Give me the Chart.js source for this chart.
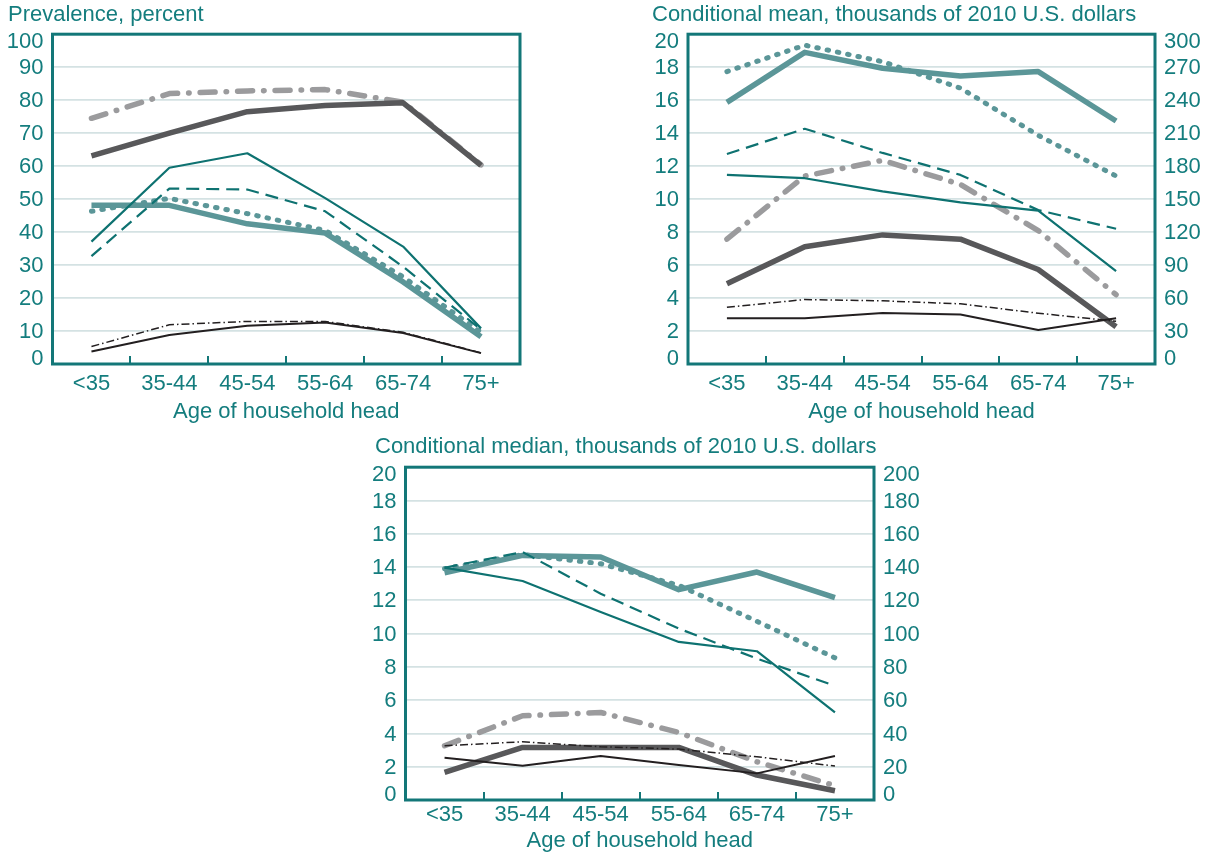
<!DOCTYPE html>
<html>
<head>
<meta charset="utf-8">
<script src="https://cdn.jsdelivr.net/npm/chart.js@4.4.1/dist/chart.umd.min.js"></script>
<style>
  html, body { margin: 0; padding: 0; background: #ffffff; }
  body { width: 1207px; height: 855px; position: relative; overflow: hidden; }
  .panel { position: absolute; }
  .panel canvas { display: block; }
</style>
</head>
<body>
<div class="panel" style="left:0px;top:0px;"><canvas id="prevalence" width="540" height="425"></canvas></div>
<div class="panel" style="left:650px;top:0px;"><canvas id="mean" width="557" height="425"></canvas></div>
<div class="panel" style="left:373px;top:430px;"><canvas id="median" width="560" height="425"></canvas></div>
<script>
// ---- categories and tick labels ----
const ageGroups = ['<35', '35-44', '45-54', '55-64', '65-74', '75+'];
const percentTicks = [0, 10, 20, 30, 40, 50, 60, 70, 80, 90, 100];
const thousandsTicks = [0, 2, 4, 6, 8, 10, 12, 14, 16, 18, 20];
const meanRightTicks = [0, 30, 60, 90, 120, 150, 180, 210, 240, 270, 300];
const medianRightTicks = [0, 20, 40, 60, 80, 100, 120, 140, 160, 180, 200];

// ---- prevalence, percent ----
const prevTealThick   = [48.1, 48.1, 42.5, 39.7, 24.9, 8.3];
const prevTealDotted  = [46.3, 50.2, 45.6, 40.5, 26.4, 9.6];
const prevTealThin    = [37.1, 59.5, 63.9, 50.3, 35.6, 10.8];
const prevTealDashed  = [32.7, 53.2, 52.9, 46.3, 29.5, 10.4];
const prevGreyThick   = [63.1, 70.0, 76.5, 78.4, 79.2, 60.2];
const prevGreyDashDot = [74.5, 82.0, 82.8, 83.2, 79.4, 60.4];
const prevBlack       = [3.8, 8.8, 11.6, 12.6, 9.4, 3.3];
const prevBlackDashDot= [5.3, 11.9, 12.9, 12.9, 9.6, 3.4];

// ---- conditional mean, thousands of 2010 dollars ----
// right-hand scale (0-300)
const meanTealThick   = [238, 283.5, 269, 262, 266, 221];
const meanTealDotted  = [266, 290, 275, 251, 208, 171];
const meanTealDashed  = [191, 214, 192, 172, 140, 123];
const meanTealThin    = [172, 169, 157, 147, 139.5, 84.5];
// left-hand scale (0-20)
const meanGreyThick   = [4.87, 7.11, 7.83, 7.57, 5.73, 2.26];
const meanGreyDashDot = [7.57, 11.4, 12.35, 10.89, 8.09, 4.2];
const meanBlack       = [2.77, 2.77, 3.1, 3.0, 2.06, 2.77];
const meanBlackDashDot= [3.44, 3.91, 3.83, 3.65, 3.08, 2.59];

// ---- conditional median, thousands of 2010 dollars ----
// right-hand scale (0-200)
const medTealThick    = [136.6, 147, 146, 126.4, 137, 121.6];
const medTealDotted   = [139, 147.5, 142, 129, 107.4, 85.4];
const medTealDashed   = [139.6, 149, 124, 103, 85, 68.6];
const medTealThin     = [139.6, 131.6, 113, 95, 89.4, 52.6];
// left-hand scale (0-20)
const medGreyThick    = [1.66, 3.16, 3.16, 3.16, 1.5, 0.56];
const medGreyDashDot  = [3.26, 5.06, 5.26, 4.06, 2.3, 0.86];
const medBlack        = [2.54, 2.06, 2.64, 2.1, 1.6, 2.64];
const medBlackDashDot = [3.26, 3.5, 3.2, 3.06, 2.6, 2.04];

// ---- styling ----
const TEXT = '#147d7e';
const FRAME = '#137778';
const GRID = '#d4e2e3';
const FONT = "'Liberation Sans', Arial, Helvetica, sans-serif";
const FONT_SIZE = 22;
const Y_LABEL_GAP = 9;

const STYLE = {
  tealThick:   { borderColor: '#5b9698', borderWidth: 5.5 },
  tealDotted:  { borderColor: '#5b9698', borderWidth: 5, borderDash: [1.5, 9], borderCapStyle: 'round' },
  tealThin:    { borderColor: '#0e7271', borderWidth: 2.2 },
  tealDashed:  { borderColor: '#0e7271', borderWidth: 2.2, borderDash: [13, 7] },
  greyThick:   { borderColor: '#58585a', borderWidth: 5.5 },
  greyDashDot: { borderColor: '#9b9b9d', borderWidth: 5.5, borderDash: [15, 11, 0.5, 11], borderCapStyle: 'round' },
  black:       { borderColor: '#231f20', borderWidth: 2 },
  blackDashDot:{ borderColor: '#231f20', borderWidth: 1.5, borderDash: [8, 3, 1.5, 3] }
};

function line(data, style, axis, order) {
  return Object.assign({
    data: data,
    yAxisID: axis,
    order: order,
    fill: false,
    tension: 0,
    pointRadius: 0,
    pointHoverRadius: 0,
    borderJoinStyle: 'round'
  }, STYLE[style]);
}

// box round the plot area, with short tick marks pointing inward at the bottom
const framePlugin = {
  id: 'frame',
  afterDatasetsDraw(chart) {
    const { ctx, chartArea: a, scales } = chart;
    const x = scales.x;
    ctx.save();
    ctx.strokeStyle = FRAME;
    ctx.lineWidth = 3;
    ctx.strokeRect(a.left, a.top, a.right - a.left, a.bottom - a.top);
    ctx.lineWidth = 2;
    for (let i = 0; i < ageGroups.length - 1; i++) {
      const px = Math.round(x.getPixelForValue(i + 0.5));
      ctx.beginPath();
      ctx.moveTo(px, a.bottom);
      ctx.lineTo(px, a.bottom - 8);
      ctx.stroke();
    }
    ctx.restore();
  }
};

// value labels on the vertical scales; the end labels sit just inside the box
const valueLabelPlugin = {
  id: 'valueLabels',
  afterDraw(chart) {
    const ctx = chart.ctx;
    ctx.save();
    ctx.fillStyle = TEXT;
    ctx.font = FONT_SIZE + 'px ' + FONT;
    ctx.textBaseline = 'middle';
    Object.values(chart.scales).forEach(scale => {
      if (scale.axis !== 'y') return;
      const last = scale.ticks.length - 1;
      const onLeft = scale.position === 'left';
      ctx.textAlign = onLeft ? 'right' : 'left';
      const x = onLeft ? scale.right - Y_LABEL_GAP : scale.left + Y_LABEL_GAP;
      scale.ticks.forEach((t, i) => {
        let y = scale.getPixelForValue(t.value);
        if (i === 0) y -= 5;
        else if (i === last) y += 8;
        else y += 1;
        ctx.fillText(String(t.value), x, y);
      });
    });
    ctx.restore();
  }
};

function valueAxis(ticks, position, width, showGrid) {
  return {
    type: 'linear',
    position: position,
    min: ticks[0],
    max: ticks[ticks.length - 1],
    afterBuildTicks: s => { s.ticks = ticks.map(v => ({ value: v })); },
    afterFit: s => { s.width = width; },
    grid: { display: showGrid, color: GRID, lineWidth: 1.8, drawTicks: false },
    border: { display: false },
    ticks: { display: false }
  };
}

function makePanel(id, opts) {
  const scales = {
    x: {
      type: 'category',
      offset: true,
      afterFit: s => { s.height = opts.xHeight; },
      grid: { display: false, drawTicks: false },
      border: { display: false },
      ticks: {
        color: TEXT,
        padding: opts.xTickPadding,
        autoSkip: false,
        maxRotation: 0,
        font: { family: FONT, size: FONT_SIZE }
      },
      title: {
        display: true,
        text: 'Age of household head',
        color: TEXT,
        padding: { top: 0, bottom: opts.xTitlePadding },
        font: { family: FONT, size: FONT_SIZE }
      }
    },
    y: valueAxis(opts.leftTicks, 'left', opts.leftWidth, true)
  };
  if (opts.rightTicks) {
    scales.y1 = valueAxis(opts.rightTicks, 'right', opts.rightWidth, false);
  }
  return new Chart(document.getElementById(id), {
    type: 'line',
    data: { labels: ageGroups, datasets: opts.datasets },
    options: {
      responsive: false,
      animation: false,
      devicePixelRatio: 1,
      layout: { padding: opts.padding },
      scales: scales,
      plugins: {
        legend: { display: false },
        tooltip: { enabled: false },
        title: {
          display: true,
          text: opts.title,
          align: 'start',
          color: TEXT,
          padding: opts.titlePadding,
          font: { family: FONT, size: FONT_SIZE, weight: 'normal' }
        }
      }
    },
    plugins: [framePlugin, valueLabelPlugin]
  });
}

makePanel('prevalence', {
  title: 'Prevalence, percent',
  padding: { left: 8, right: 20, top: 0, bottom: 0 },
  titlePadding: { top: 1.8, bottom: 6 },
  leftTicks: percentTicks,
  leftWidth: 44.5,
  xHeight: 61,
  xTickPadding: 6.3,
  xTitlePadding: 0,
  datasets: [
    line(prevBlackDashDot, 'blackDashDot', 'y', 1),
    line(prevBlack, 'black', 'y', 2),
    line(prevTealDashed, 'tealDashed', 'y', 3),
    line(prevTealThin, 'tealThin', 'y', 4),
    line(prevTealDotted, 'tealDotted', 'y', 5),
    line(prevTealThick, 'tealThick', 'y', 6),
    line(prevGreyThick, 'greyThick', 'y', 7),
    line(prevGreyDashDot, 'greyDashDot', 'y', 8)
  ]
});

makePanel('mean', {
  title: 'Conditional mean, thousands of 2010 U.S. dollars',
  padding: { left: 2, right: 0, top: 0, bottom: 0 },
  titlePadding: { top: 1.8, bottom: 6 },
  leftTicks: thousandsTicks,
  leftWidth: 36,
  rightTicks: meanRightTicks,
  rightWidth: 52,
  xHeight: 61,
  xTickPadding: 6.3,
  xTitlePadding: 0,
  datasets: [
    line(meanBlackDashDot, 'blackDashDot', 'y', 1),
    line(meanBlack, 'black', 'y', 2),
    line(meanTealDashed, 'tealDashed', 'y1', 3),
    line(meanTealThin, 'tealThin', 'y1', 4),
    line(meanTealDotted, 'tealDotted', 'y1', 5),
    line(meanTealThick, 'tealThick', 'y1', 6),
    line(meanGreyThick, 'greyThick', 'y', 7),
    line(meanGreyDashDot, 'greyDashDot', 'y', 8)
  ]
});

makePanel('median', {
  title: 'Conditional median, thousands of 2010 U.S. dollars',
  padding: { left: 2, right: 0, top: 0, bottom: 0 },
  titlePadding: { top: 3.8, bottom: 7 },
  leftTicks: thousandsTicks,
  leftWidth: 30.5,
  rightTicks: medianRightTicks,
  rightWidth: 59,
  xHeight: 55,
  xTickPadding: 1.8,
  xTitlePadding: 0.8,
  datasets: [
    line(medBlackDashDot, 'blackDashDot', 'y', 1),
    line(medBlack, 'black', 'y', 2),
    line(medTealDashed, 'tealDashed', 'y1', 3),
    line(medTealThin, 'tealThin', 'y1', 4),
    line(medTealDotted, 'tealDotted', 'y1', 5),
    line(medTealThick, 'tealThick', 'y1', 6),
    line(medGreyThick, 'greyThick', 'y', 7),
    line(medGreyDashDot, 'greyDashDot', 'y', 8)
  ]
});
</script>
</body>
</html>
